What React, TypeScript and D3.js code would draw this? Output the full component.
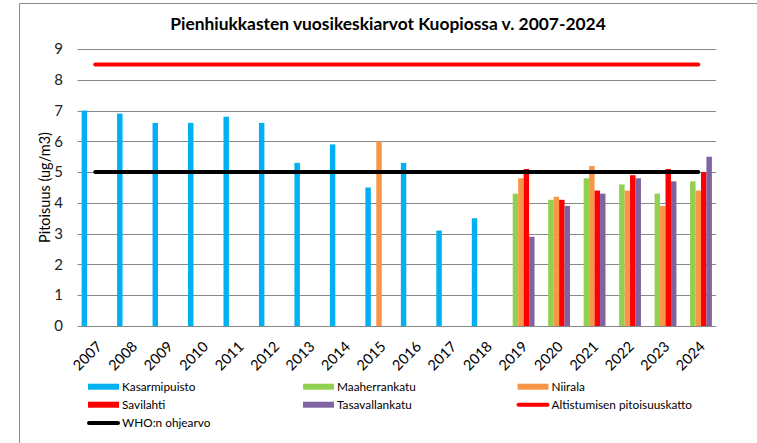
import React from "react";
import * as d3 from "d3";

const years = ["2007","2008","2009","2010","2011","2012","2013","2014","2015","2016","2017","2018","2019","2020","2021","2022","2023","2024"];
const kasarmipuisto = [7.0, 6.9, 6.6, 6.6, 6.8, 6.6, 5.3, 5.9, 4.5, 5.3, 3.1, 3.5, null, null, null, null, null, null];
const maaherrankatu = [null, null, null, null, null, null, null, null, null, null, null, null, 4.3, 4.1, 4.8, 4.6, 4.3, 4.7];
const niirala = [null, null, null, null, null, null, null, null, 6.0, null, null, null, 4.8, 4.2, 5.2, 4.4, 3.9, 4.4];
const savilahti = [null, null, null, null, null, null, null, null, null, null, null, null, 5.1, 4.1, 4.4, 4.9, 5.1, 5.0];
const tasavallankatu = [null, null, null, null, null, null, null, null, null, null, null, null, 2.9, 3.9, 4.3, 4.8, 4.7, 5.5];
const altistumisenKatto = years.map(() => 8.5);
const whoOhjearvo = years.map(() => 5);
const yTicks = [0, 1, 2, 3, 4, 5, 6, 7, 8, 9];

const barSeries = [
  { name: "Kasarmipuisto", values: kasarmipuisto, color: "#00B0F0" },
  { name: "Maaherrankatu", values: maaherrankatu, color: "#92D050" },
  { name: "Niirala", values: niirala, color: "#F79646" },
  { name: "Savilahti", values: savilahti, color: "#FF0000" },
  { name: "Tasavallankatu", values: tasavallankatu, color: "#8064A2" },
];
const lineSeries = [
  { name: "Altistumisen pitoisuuskatto", values: altistumisenKatto, color: "#FF0000" },
  { name: "WHO:n ohjearvo", values: whoOhjearvo, color: "#000000" },
];

const W = 757, H = 443;
const left = 77.5, right = 716, top = 49, bottom = 326;
const FONT = "Lato, 'Open Sans', sans-serif";

export default function App() {
  const x = d3.scaleBand<string>().domain(years).range([left, right]).paddingInner(0).paddingOuter(0);
  const y = d3.scaleLinear().domain([0, 9]).range([bottom, top]);
  const bw = x.bandwidth();
  const barW = bw / 6.5;
  const pad = barW * 0.75;
  const sub = d3.scaleBand<string>().domain(barSeries.map(s => s.name)).range([pad, bw - pad]);

  const lineGen = d3.line<number>()
    .x((_, i) => (x(years[i]) as number) + bw / 2)
    .y(d => y(d));

  const legendItems = [
    { name: "Kasarmipuisto", type: "bar", color: "#00B0F0" },
    { name: "Maaherrankatu", type: "bar", color: "#92D050" },
    { name: "Niirala", type: "bar", color: "#F79646" },
    { name: "Savilahti", type: "bar", color: "#FF0000" },
    { name: "Tasavallankatu", type: "bar", color: "#8064A2" },
    { name: "Altistumisen pitoisuuskatto", type: "line", color: "#FF0000" },
    { name: "WHO:n ohjearvo", type: "line", color: "#000000" },
  ];
  const legCols = [88, 303, 517.5];
  const legRows = [386.7, 404.7, 423];

  return (
    <svg width={W} height={H} style={{ position: "absolute", left: 0, top: 0, background: "#fff" }} fontFamily={FONT}>
      <rect x={0} y={0} width={W} height={H} fill="#fff" />
      <path d={`M19.5,${H} V3.5 H${W}`} fill="none" stroke="#898989" strokeWidth={1} />
      <text x={388} y={30} textAnchor="middle" fontSize={17.4} fontWeight="bold" fill="#000">
        Pienhiukkasten vuosikeskiarvot Kuopiossa v. 2007-2024
      </text>
      {yTicks.map(t => (
        <g key={t}>
          <line x1={left} x2={right} y1={Math.round(y(t)) + 0.5} y2={Math.round(y(t)) + 0.5} stroke="#888" strokeWidth={1.2} />
          <text x={63} y={y(t)} dy="0.35em" textAnchor="end" fontSize={15} fill="#222">{t}</text>
        </g>
      ))}
      <text transform={`translate(45,${(top + bottom) / 2}) rotate(-90)`} textAnchor="middle" fontSize={14.5} fill="#000" dy="0.35em">
        Pitoisuus (ug/m3)
      </text>
      {barSeries.map(s => (
        <g key={s.name}>
          {s.values.map((v, i) => v == null ? null : (
            <rect key={i}
              x={(x(years[i]) as number) + (sub(s.name) as number)}
              y={y(v)}
              width={sub.bandwidth()}
              height={y(0) - y(v)}
              fill={s.color} />
          ))}
        </g>
      ))}
      {lineSeries.map(s => (
        <path key={s.name} d={lineGen(s.values) as string} fill="none" stroke={s.color} strokeWidth={4} strokeLinecap="round" />
      ))}
      {years.map(yr => {
        const cx = (x(yr) as number) + bw / 2;
        return (
          <text key={yr} transform={`translate(${cx + 4},${bottom + 18}) rotate(-45)`} textAnchor="end" fontSize={14.5} fill="#000" dy="0.35em">
            {yr}
          </text>
        );
      })}
      {legendItems.map((it, i) => {
        const cx = legCols[i % 3];
        const cy = legRows[Math.floor(i / 3)];
        return (
          <g key={it.name}>
            {it.type === "bar"
              ? <rect x={cx} y={cy - 3} width={31} height={6} fill={it.color} />
              : <line x1={cx + 1} x2={cx + 30} y1={cy} y2={cy} stroke={it.color} strokeWidth={4} strokeLinecap="round" />}
            <text x={cx + 34} y={cy} dy="0.35em" fontSize={11.8} fill="#000">{it.name}</text>
          </g>
        );
      })}
    </svg>
  );
}
